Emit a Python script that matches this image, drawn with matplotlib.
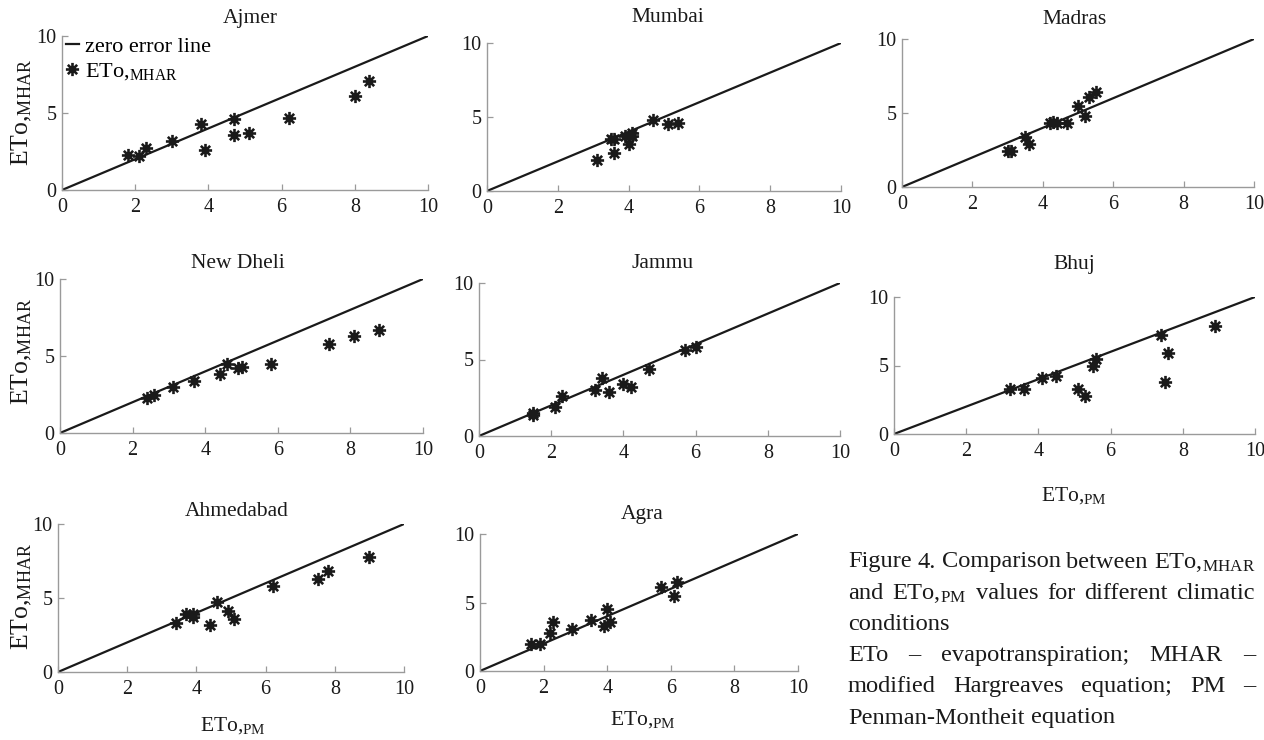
"""ETo,MHAR vs ETo,PM scatter panels for eight Indian stations (Figure 4)."""
import matplotlib

matplotlib.use("Agg")
import matplotlib.pyplot as plt
import numpy as np
from matplotlib.lines import Line2D
from matplotlib.path import Path

plt.rcParams["font.family"] = ["Liberation Serif", "DejaVu Serif"]
plt.rcParams["mathtext.fontset"] = "custom"
plt.rcParams["mathtext.rm"] = "Liberation Serif"
plt.rcParams["mathtext.it"] = "Liberation Serif:italic"
plt.rcParams["mathtext.bf"] = "Liberation Serif:bold"

# --- data -------------------------------------------------------------------
cities = ["Ajmer", "Mumbai", "Madras", "New Dheli", "Jammu", "Bhuj", "Ahmedabad", "Agra"]

ajmer_pm = [1.8, 2.1, 2.3, 3.0, 3.8, 3.9, 4.7, 4.7, 5.1, 6.2, 8.0, 8.4]
ajmer_mhar = [2.3, 2.2, 2.7, 3.2, 4.3, 2.6, 4.6, 3.6, 3.7, 4.7, 6.1, 7.1]

mumbai_pm = [3.1, 3.5, 3.6, 3.6, 3.9, 4.0, 4.1, 4.1, 4.7, 5.1, 5.4]
mumbai_mhar = [2.1, 3.5, 3.5, 2.6, 3.7, 3.2, 3.9, 3.7, 4.8, 4.5, 4.6]

madras_pm = [3.0, 3.1, 3.5, 3.6, 4.2, 4.3, 4.4, 4.7, 5.0, 5.2, 5.3, 5.5]
madras_mhar = [2.4, 2.4, 3.4, 2.9, 4.3, 4.4, 4.3, 4.3, 5.5, 4.8, 6.1, 6.4]

dheli_pm = [2.4, 2.6, 3.1, 3.7, 4.4, 4.6, 4.9, 5.0, 5.8, 7.4, 8.1, 8.8]
dheli_mhar = [2.3, 2.5, 3.0, 3.4, 3.8, 4.5, 4.2, 4.3, 4.5, 5.8, 6.3, 6.7]

jammu_pm = [1.5, 1.5, 2.1, 2.3, 3.2, 3.4, 3.6, 4.0, 4.2, 4.7, 5.7, 6.0]
jammu_mhar = [1.4, 1.5, 1.9, 2.6, 3.0, 3.8, 2.9, 3.4, 3.2, 4.4, 5.6, 5.8]

bhuj_pm = [3.2, 3.6, 4.1, 4.5, 5.1, 5.3, 5.5, 5.6, 7.4, 7.5, 7.6, 8.9]
bhuj_mhar = [3.3, 3.3, 4.1, 4.2, 3.3, 2.8, 5.0, 5.5, 7.2, 3.8, 5.9, 7.9]

ahmedabad_pm = [3.4, 3.7, 3.9, 3.9, 4.4, 4.6, 4.9, 5.1, 6.2, 7.5, 7.8, 9.0]
ahmedabad_mhar = [3.3, 3.9, 3.9, 3.7, 3.2, 4.7, 4.1, 3.6, 5.8, 6.3, 6.8, 7.8]

agra_pm = [1.6, 1.9, 2.2, 2.3, 2.9, 3.5, 3.9, 4.0, 4.1, 5.7, 6.1, 6.2]
agra_mhar = [2.0, 2.0, 2.8, 3.6, 3.1, 3.7, 3.3, 4.5, 3.6, 6.1, 5.5, 6.5]

pm_values = [ajmer_pm, mumbai_pm, madras_pm, dheli_pm, jammu_pm, bhuj_pm, ahmedabad_pm, agra_pm]
mhar_values = [ajmer_mhar, mumbai_mhar, madras_mhar, dheli_mhar, jammu_mhar,
               bhuj_mhar, ahmedabad_mhar, agra_mhar]

zero_line = [0, 10]
x_ticks = [0, 2, 4, 6, 8, 10]
y_ticks = [0, 5, 10]

MHAR = r"ETo,$_\mathrm{MHAR}$"
PM = r"ETo,$_\mathrm{PM}$"

caption = [
    ("Figure 4. Comparison between " + MHAR, True),
    ("and " + PM + " values for different climatic", True),
    ("conditions", False),
    ("ETo – evapotranspiration; MHAR –", True),
    ("modified Hargreaves equation; PM –", True),
    ("Penman-Montheit equation", False),
]

# --- layout (pixels) ----------------------------------------------------------
W, H = 1264, 740
# left, right, top, bottom of each plot area
boxes = [(62, 428, 36, 190), (487, 841, 43, 191), (902, 1254, 39, 187),
         (60, 423, 279, 433), (479, 840, 283, 436), (894, 1255, 297, 434),
         (58, 404, 524, 672), (480, 798, 534, 671)]
title_xy = [(250, 18), (668, 18), (1075, 20), (238, 263), (663, 263), (1074, 265),
            (237, 511), (642, 514)]
ylabel_xy = {0: (22, 113), 3: (22, 352), 6: (22, 597)}
xlabel_xy = {5: (1074, 496), 6: (233, 726), 7: (643, 720)}
caption_x0, caption_x1 = 848, 1255
caption_y0, caption_dy = 562, 31.2

INK = "#1a1a1a"
SPINE = "#9a9a9a"

# eight-armed asterisk marker (MATLAB style '*')
verts, codes = [], []
for a in np.deg2rad([0, 45, 90, 135]):
    verts += [(np.cos(a), np.sin(a)), (-np.cos(a), -np.sin(a))]
    codes += [Path.MOVETO, Path.LINETO]
ASTERISK = Path(verts, codes)


def fx(px):
    return px / W


def fy(py):
    return 1 - py / H


fig = plt.figure(figsize=(W / 100, H / 100), dpi=100)

for i, (l, r, t, b) in enumerate(boxes):
    ax = fig.add_axes([fx(l), fy(b), (r - l) / W, (b - t) / H])
    ax.plot(zero_line, zero_line, color=INK, lw=1.6, solid_capstyle="butt")
    ax.plot(pm_values[i], mhar_values[i], ls="none", marker=ASTERISK, ms=9.5,
            mec=INK, mfc="none", mew=1.9, clip_on=False)
    ax.set_xlim(0, 10)
    ax.set_ylim(0, 10)
    ax.set_xticks(x_ticks)
    ax.set_yticks(y_ticks)
    for side in ("top", "right"):
        ax.spines[side].set_visible(False)
    for side in ("left", "bottom"):
        ax.spines[side].set_color(SPINE)
        ax.spines[side].set_linewidth(1.0)
    ax.tick_params(direction="in", length=4, width=0.9, color=SPINE,
                   labelsize=14.5, labelcolor=INK)
    ax.tick_params(axis="x", pad=6)
    ax.tick_params(axis="y", pad=4)

    tx, ty = title_xy[i]
    fig.text(fx(tx), fy(ty), cities[i], ha="center", va="center", fontsize=15.5, color=INK)

    if i in ylabel_xy:
        lx, ly = ylabel_xy[i]
        fig.text(fx(lx), fy(ly), MHAR, rotation=90, ha="center", va="center",
                 fontsize=18.5, color=INK)
    if i in xlabel_xy:
        lx, ly = xlabel_xy[i]
        fig.text(fx(lx), fy(ly), PM, ha="center", va="center", fontsize=15.5, color=INK)

    if i == 0:
        handles = [Line2D([], [], color=INK, lw=1.6),
                   Line2D([], [], ls="none", marker=ASTERISK, ms=9.5, mec=INK,
                          mfc="none", mew=1.9)]
        ax.legend(handles, ["zero error line", MHAR], loc="upper left",
                  frameon=False, fontsize=16, handlelength=0.6, handletextpad=0.25,
                  borderaxespad=0.0, borderpad=0.0, labelspacing=0.2,
                  bbox_to_anchor=(0.01, 1.0))

# caption, justified like the journal text block
renderer = fig.canvas.get_renderer()
fs = 17.6
space_px = 0.25 * fs * 100 / 72
for k, (line, justify) in enumerate(caption):
    y = fy(caption_y0 + k * caption_dy)
    words = line.split(" ")
    if "$" in line:
        # keep mathtext tokens intact
        merged = []
        for w in words:
            if merged and merged[-1].count("$") % 2 == 1:
                merged[-1] += " " + w
            else:
                merged.append(w)
        words = merged
    texts = [fig.text(0, y, w, fontsize=fs, color=INK, va="center", ha="left")
             for w in words]
    widths = [t.get_window_extent(renderer).width for t in texts]
    if justify and len(texts) > 1:
        gap = max(2.5, (caption_x1 - caption_x0 - sum(widths)) / (len(texts) - 1))
    else:
        gap = space_px
    x = caption_x0
    for t, w in zip(texts, widths):
        t.set_x(fx(x))
        x += w + gap

fig.savefig("out.png", dpi=100)
